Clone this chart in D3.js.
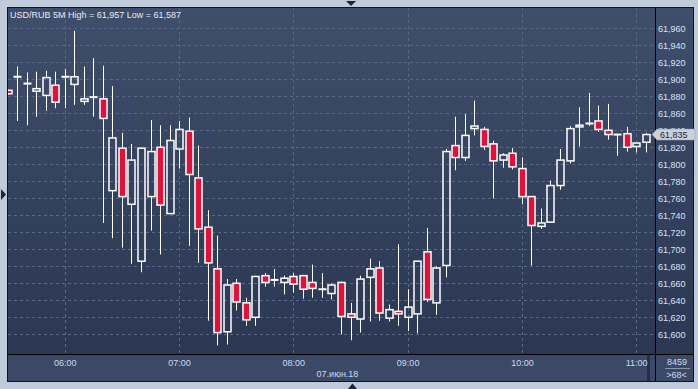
<!DOCTYPE html>
<html>
<head>
<meta charset="utf-8">
<script src="https://d3js.org/d3.v7.min.js"></script>
<style>
  body { margin: 0; background: #c0cbd9; }
  svg { display: block; font-family: 'Liberation Sans', Arial, sans-serif; }
</style>
</head>
<body>
<svg id="chart" width="698" height="389"></svg>
<script>
// 5 minute candles, first one at 05:30 (cut off by the left border)
const firstBar = new Date(2018, 5, 7, 5, 30);
const opens = [61887, 61903, 61895, 61886, 61881, 61893, 61903, 61894, 61874, 61879,
  61877, 61769, 61819, 61753, 61686, 61762, 61820, 61742, 61818, 61839,
  61784, 61726, 61677, 61603, 61660, 61637, 61620, 61669, 61664, 61661,
  61668, 61669, 61661, 61653, 61648, 61661, 61624, 61618, 61667, 61678,
  61619, 61627, 61620, 61624, 61697, 61637, 61681, 61822, 61808, 61842,
  61841, 61824, 61805, 61813, 61795, 61762, 61727, 61732, 61775, 61804,
  61844, 61848, 61851, 61840, 61835, 61836, 61821, 61826];
const highs = [61888, 61915, 61908, 61909, 61910, 61909, 61912, 61957, 61915, 61925,
  61916, 61892, 61837, 61824, 61819, 61852, 61846, 61846, 61851, 61855,
  61822, 61746, 61716, 61665, 61665, 61643, 61669, 61672, 61677, 61669,
  61672, 61670, 61682, 61672, 61660, 61662, 61637, 61669, 61689, 61686,
  61635, 61706, 61653, 61686, 61725, 61680, 61818, 61856, 61859, 61875,
  61844, 61828, 61813, 61819, 61808, 61763, 61748, 61781, 61818, 61845,
  61867, 61884, 61869, 61871, 61835, 61844, 61825, 61837];
const lows = [61882, 61851, 61846, 61856, 61863, 61866, 61866, 61870, 61870, 61856,
  61731, 61713, 61702, 61683, 61673, 61722, 61694, 61742, 61795, 61704,
  61684, 61616, 61587, 61588, 61628, 61610, 61610, 61656, 61656, 61647,
  61649, 61642, 61643, 61643, 61641, 61600, 61593, 61602, 61615, 61616,
  61615, 61610, 61604, 61601, 61638, 61623, 61667, 61793, 61804, 61834,
  61817, 61760, 61796, 61794, 61753, 61681, 61724, 61731, 61770, 61801,
  61821, 61845, 61838, 61829, 61810, 61815, 61814, 61814];
const closes = [61883, 61903, 61895, 61889, 61902, 61873, 61903, 61903, 61877, 61879,
  61854, 61831, 61762, 61805, 61819, 61815, 61752, 61828, 61841, 61788,
  61724, 61684, 61602, 61658, 61638, 61617, 61668, 61661, 61664, 61666,
  61659, 61653, 61654, 61653, 61658, 61621, 61620, 61665, 61677, 61625,
  61629, 61624, 61632, 61686, 61641, 61678, 61815, 61808, 61834, 61845,
  61821, 61804, 61811, 61797, 61762, 61728, 61731, 61775, 61805, 61842,
  61846, 61848, 61841, 61835, 61835, 61820, 61825, 61835];
const priceTicks = d3.range(61600, 61961, 20);
const title = "USD/RUB 5M High = 61,957 Low = 61,587";
const dateLabel = "07.июн.18";
const lastPrice = 61835;
const barCount = "8459";
const visibleBars = ">68<";

const svg = d3.select("#chart");
const W = 698, H = 389;
const pL = 8, pT = 8, plotRight = 655, plotBottom = 354, panelRight = 693, panelBottom = 381;

const times = opens.map((d, i) => d3.timeMinute.offset(firstBar, i * 5));
const candles = opens.map((o, i) => ({ t: times[i], o: o, h: highs[i], l: lows[i], c: closes[i] }));

const x = d3.scaleTime()
  .domain([new Date(2018, 5, 7, 6, 0), new Date(2018, 5, 7, 11, 0)])
  .range([65.3, 636.7]);
const y = d3.scaleLinear()
  .domain([61600, 61960])
  .range([334.3, 28.3]);

const defs = svg.append("defs");
const grad = defs.append("linearGradient")
  .attr("id", "bg").attr("x1", 0).attr("y1", 0).attr("x2", 0).attr("y2", 1);
grad.append("stop").attr("offset", "0%").attr("stop-color", "#3f4e6b");
grad.append("stop").attr("offset", "100%").attr("stop-color", "#2b3753");
defs.append("clipPath").attr("id", "plotClip")
  .append("rect").attr("x", pL).attr("y", pT)
  .attr("width", plotRight - pL).attr("height", plotBottom - pT);

// frame
svg.append("rect").attr("width", W).attr("height", H).attr("fill", "#c0cbd9");
svg.append("rect").attr("x", pL - 1).attr("y", pT - 1)
  .attr("width", panelRight - pL + 2).attr("height", panelBottom - pT + 2)
  .attr("fill", "#10141c");
svg.append("rect").attr("x", pL).attr("y", pT)
  .attr("width", plotRight - pL).attr("height", plotBottom - pT).attr("fill", "url(#bg)");
svg.append("rect").attr("x", plotRight + 1).attr("y", pT)
  .attr("width", panelRight - plotRight - 1).attr("height", plotBottom - pT).attr("fill", "url(#bg)");
svg.append("rect").attr("x", pL).attr("y", plotBottom + 1)
  .attr("width", plotRight - pL).attr("height", panelBottom - plotBottom - 1).attr("fill", "#3c4966");
svg.append("rect").attr("x", plotRight + 1).attr("y", plotBottom + 1)
  .attr("width", panelRight - plotRight - 1).attr("height", panelBottom - plotBottom - 1).attr("fill", "#3c4966");
svg.append("rect").attr("x", 647).attr("y", plotBottom + 1)
  .attr("width", 3).attr("height", panelBottom - plotBottom - 1).attr("fill", "#252f45");

// grid
const grid = svg.append("g").attr("clip-path", "url(#plotClip)")
  .attr("stroke", "#596985").attr("stroke-width", 1).attr("stroke-dasharray", "3,3");
grid.selectAll(".hg").data(priceTicks).join("line")
  .attr("x1", pL).attr("x2", plotRight)
  .attr("y1", d => Math.floor(y(d)) + 0.5).attr("y2", d => Math.floor(y(d)) + 0.5);
const hourTicks = x.ticks(d3.timeHour.every(1));
grid.selectAll(".vg").data(hourTicks).join("line")
  .attr("y1", pT).attr("y2", plotBottom)
  .attr("x1", d => Math.floor(x(d)) + 0.5).attr("x2", d => Math.floor(x(d)) + 0.5);

// candles
const bw = 7;
const cg = svg.append("g").attr("clip-path", "url(#plotClip)");
candles.forEach(d => {
  const cx = Math.floor(x(d.t)) + 0.5;
  const yTop = y(Math.max(d.o, d.c)), yBot = y(Math.min(d.o, d.c));
  const up = d.c >= d.o;
  cg.append("line").attr("x1", cx).attr("x2", cx)
    .attr("y1", y(d.h)).attr("y2", yTop).attr("stroke", "#ffffff").attr("stroke-width", 1);
  cg.append("line").attr("x1", cx).attr("x2", cx)
    .attr("y1", yBot).attr("y2", y(d.l)).attr("stroke", "#ffffff").attr("stroke-width", 1);
  if (yBot - yTop < 1.5) {
    cg.append("rect").attr("x", cx - bw / 2 - 0.5).attr("y", (yTop + yBot) / 2 - 1)
      .attr("width", bw + 1).attr("height", 2).attr("fill", "#ffffff");
  } else {
    cg.append("rect").attr("x", cx - bw / 2).attr("y", yTop)
      .attr("width", bw).attr("height", yBot - yTop)
      .attr("fill", up ? "none" : "#dc143c")
      .attr("stroke", "#ffffff").attr("stroke-width", 1.5);
  }
});

// separators
svg.append("line").attr("x1", plotRight + 0.5).attr("x2", plotRight + 0.5)
  .attr("y1", pT).attr("y2", panelBottom).attr("stroke", "#000");
svg.append("line").attr("x1", pL).attr("x2", panelRight)
  .attr("y1", plotBottom + 0.5).attr("y2", plotBottom + 0.5).attr("stroke", "#000");

// price axis labels
svg.append("g").selectAll("text").data(priceTicks).join("text")
  .attr("x", 658).attr("y", d => y(d) + 3.3)
  .attr("font-size", 9).attr("fill", "#d6e2f2")
  .text(d => d3.format(",")(d));

// last price marker
const ly = y(lastPrice);
svg.append("path")
  .attr("d", `M652,${ly} L657,${ly - 5.5} L695,${ly - 5.5} L695,${ly + 5.5} L657,${ly + 5.5} Z`)
  .attr("fill", "#c9d1dc").attr("stroke", "#8d98a8").attr("stroke-width", 0.5);
svg.append("text").attr("x", 660).attr("y", ly + 3.3)
  .attr("font-size", 9).attr("fill", "#1b2538").text(d3.format(",")(lastPrice));

// time axis labels
svg.append("g").selectAll("text").data(hourTicks).join("text")
  .attr("x", d => x(d)).attr("y", 366)
  .attr("text-anchor", "middle").attr("font-size", 9).attr("fill", "#c6dbf3")
  .text(d => d3.timeFormat("%H:%M")(d));
svg.append("text").attr("x", 337.5).attr("y", 377)
  .attr("text-anchor", "middle").attr("font-size", 9).attr("fill", "#c6dbf3").text(dateLabel);

// bar counter
svg.append("text").attr("x", 677).attr("y", 365)
  .attr("text-anchor", "middle").attr("font-size", 9).attr("fill", "#c6dbf3").text(barCount);
svg.append("line").attr("x1", 665).attr("x2", 690).attr("y1", 368.5).attr("y2", 368.5)
  .attr("stroke", "#8796ad");
svg.append("text").attr("x", 676.5).attr("y", 378)
  .attr("text-anchor", "middle").attr("font-size", 9).attr("fill", "#c6dbf3").text(visibleBars);

// title
svg.append("text").attr("x", 10).attr("y", 18)
  .attr("font-size", 9).attr("fill", "#e4eaf3").text(title);

// little scroll arrows on the frame
svg.append("path").attr("d", "M346,1 L356,1 L351,6 Z").attr("fill", "#1c2637");
svg.append("path").attr("d", "M1,189 L6,194.5 L1,200 Z").attr("fill", "#1c2637");
svg.append("path").attr("d", "M348,389 L357,389 L352.5,383.5 Z").attr("fill", "#1c2637");
</script>
</body>
</html>
